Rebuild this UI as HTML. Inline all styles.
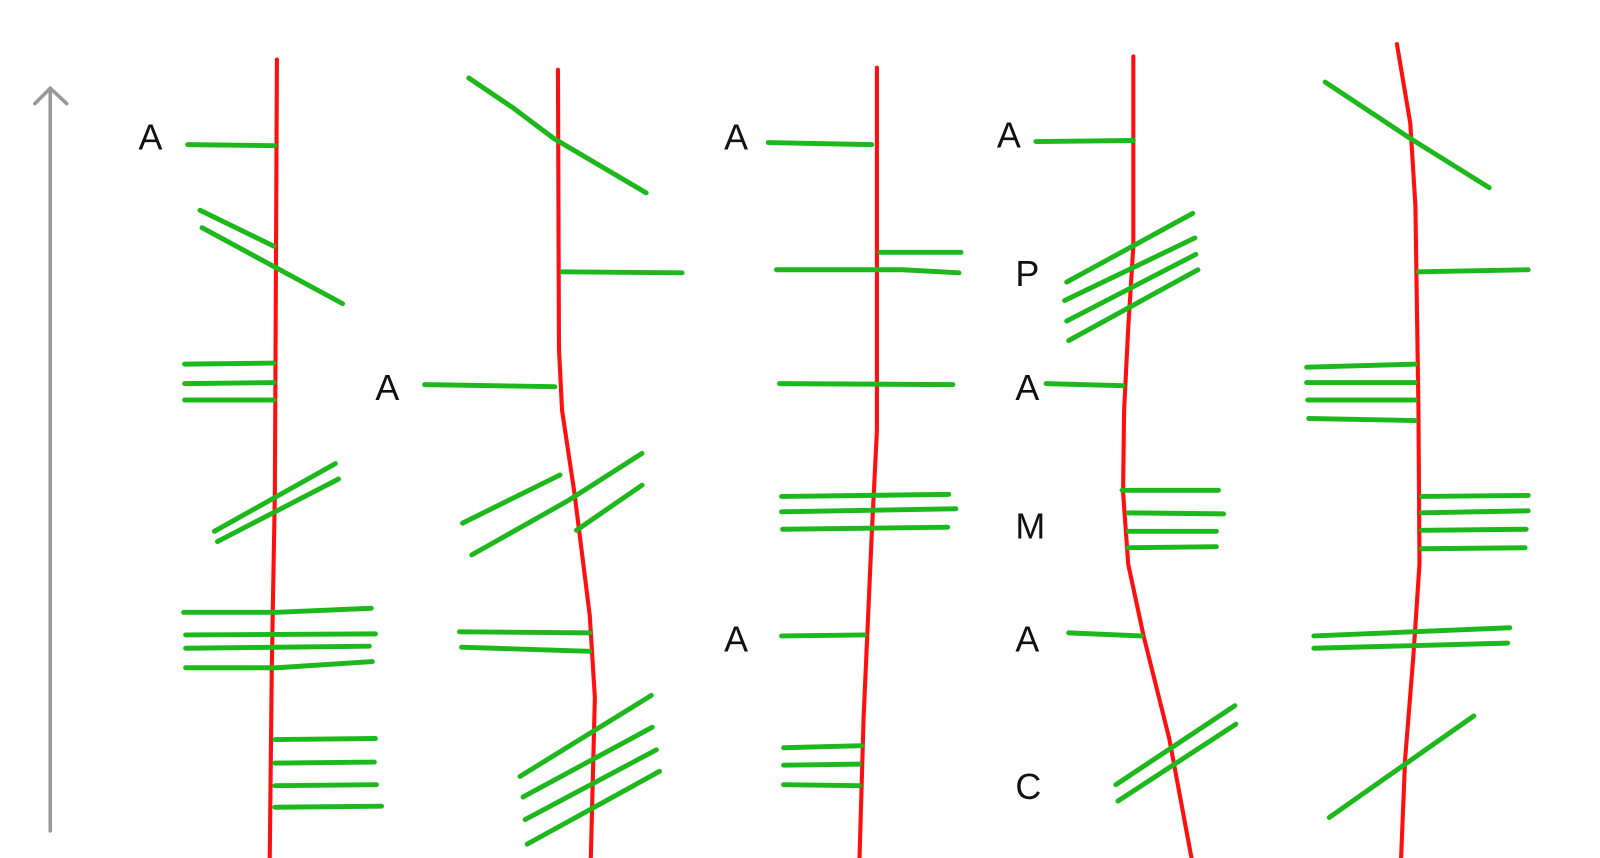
<!DOCTYPE html>
<html><head><meta charset="utf-8"><style>
html,body{margin:0;padding:0;background:#fff;}
svg{display:block;}
text{font-family:"Liberation Sans",sans-serif;font-size:35px;fill:#111;}
.r{fill:none;stroke:#ff1010;stroke-width:4;stroke-linecap:round;stroke-linejoin:round;}
.g{fill:none;stroke:#1cb81c;stroke-width:4.8;stroke-linecap:round;stroke-linejoin:round;}
</style></head><body>
<svg width="1600" height="858" viewBox="0 0 1560 836.5" preserveAspectRatio="none">
<g fill="none" stroke="#999" stroke-width="3.5" stroke-linecap="round" stroke-linejoin="round">
<line x1="49" y1="86" x2="49" y2="810"/>
<polyline points="34,101 49,86 65,101"/>
</g>
<!-- col1 -->
<polyline class="r" points="270,58 268,480 265,650 263,838"/>
<text x="135" y="146">A</text>
<polyline class="g" points="183,141 268,142"/>
<polyline class="g" points="195,205 267,240"/>
<polyline class="g" points="197,222 334,296"/>
<polyline class="g" points="180,355 267,354"/>
<polyline class="g" points="180,374 267,373"/>
<polyline class="g" points="180,390 267,390"/>
<polyline class="g" points="209,518 327,452"/>
<polyline class="g" points="212,528 330,467"/>
<polyline class="g" points="179,597 270,597 362,593"/>
<polyline class="g" points="181,619 366,618"/>
<polyline class="g" points="181,632 360,630"/>
<polyline class="g" points="181,651 270,651 363,645"/>
<polyline class="g" points="268,721 366,720"/>
<polyline class="g" points="268,744 365,743"/>
<polyline class="g" points="268,766 367,765"/>
<polyline class="g" points="268,787 372,786"/>
<!-- col2 -->
<polyline class="r" points="544,68 545,340 548,400 560,480 575,600 580,680 576,838"/>
<polyline class="g" points="457,76 500,105 540,135 630,188"/>
<polyline class="g" points="548,265 665,266"/>
<text x="366" y="390">A</text>
<polyline class="g" points="414,375 541,377"/>
<polyline class="g" points="451,510 546,463"/>
<polyline class="g" points="460,541 554,488 626,442"/>
<polyline class="g" points="562,517 626,473"/>
<polyline class="g" points="448,616 575,617"/>
<polyline class="g" points="450,631 575,635"/>
<polyline class="g" points="507,757 635,678"/>
<polyline class="g" points="510,777 636,709"/>
<polyline class="g" points="512,799 640,731"/>
<polyline class="g" points="514,823 643,752"/>
<!-- col3 -->
<polyline class="r" points="855,66 855,420 850,520 842,700 838,838"/>
<text x="706" y="146">A</text>
<polyline class="g" points="749,139 850,141"/>
<polyline class="g" points="858,246 937,246"/>
<polyline class="g" points="757,263 880,263 935,266"/>
<polyline class="g" points="760,374 929,375"/>
<polyline class="g" points="762,484 925,482"/>
<polyline class="g" points="762,499 932,496"/>
<polyline class="g" points="763,516 924,514"/>
<text x="706" y="635">A</text>
<polyline class="g" points="762,620 843,619"/>
<polyline class="g" points="764,729 840,727"/>
<polyline class="g" points="764,746 838,745"/>
<polyline class="g" points="764,765 838,766"/>
<!-- col4 -->
<polyline class="r" points="1105,55 1105,240 1100,320 1096,400 1095,480 1100,550 1115,620 1140,720 1162,838"/>
<text x="972" y="144">A</text>
<polyline class="g" points="1010,138 1105,137"/>
<text x="990" y="279">P</text>
<polyline class="g" points="1040,275 1163,208"/>
<polyline class="g" points="1038,293 1165,232"/>
<polyline class="g" points="1040,313 1166,248"/>
<polyline class="g" points="1042,332 1168,263"/>
<text x="990" y="390">A</text>
<polyline class="g" points="1020,374 1095,376"/>
<text x="990" y="525">M</text>
<polyline class="g" points="1094,478 1188,478"/>
<polyline class="g" points="1100,500 1193,501"/>
<polyline class="g" points="1100,518 1186,518"/>
<polyline class="g" points="1100,534 1186,533"/>
<text x="990" y="635">A</text>
<polyline class="g" points="1042,617 1113,620"/>
<text x="990" y="779">C</text>
<polyline class="g" points="1088,765 1204,688"/>
<polyline class="g" points="1090,781 1205,706"/>
<!-- col5 -->
<polyline class="r" points="1362,43 1375,120 1380,200 1383,400 1384,550 1378,640 1370,740 1366,838"/>
<polyline class="g" points="1292,80 1375,135 1452,183"/>
<polyline class="g" points="1383,265 1490,263"/>
<polyline class="g" points="1274,358 1380,355"/>
<polyline class="g" points="1274,373 1380,373"/>
<polyline class="g" points="1275,390 1380,390"/>
<polyline class="g" points="1276,408 1380,410"/>
<polyline class="g" points="1386,484 1490,483"/>
<polyline class="g" points="1386,500 1490,498"/>
<polyline class="g" points="1386,517 1488,516"/>
<polyline class="g" points="1386,535 1487,534"/>
<polyline class="g" points="1281,620 1472,612"/>
<polyline class="g" points="1281,632 1470,627"/>
<polyline class="g" points="1296,797 1370,745 1437,698"/>
</svg>
</body></html>
